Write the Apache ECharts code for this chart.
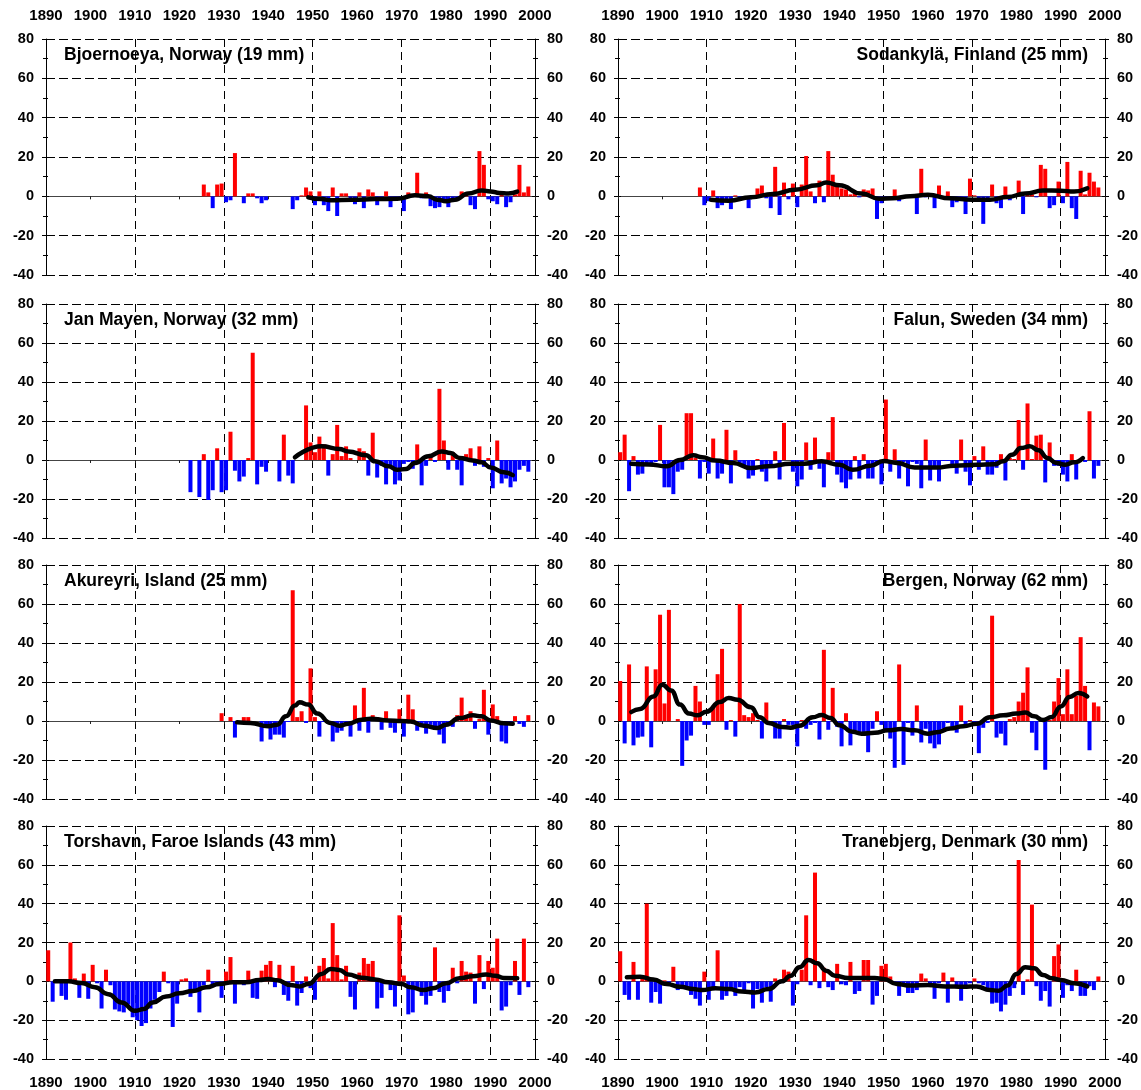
<!DOCTYPE html>
<html>
<head>
<meta charset="utf-8">
<script src="https://cdn.jsdelivr.net/npm/echarts@6/dist/echarts.min.js"></script>
<style>
html, body { margin: 0; padding: 0; background: #fff; }
#chart { width: 1141px; height: 1090px; }
</style>
</head>
<body>
<div id="chart"></div>
<script>
//数据: yearly deviation (%) per station, bars start at *Start year
let bjoernoeyaStart = 1925;
let bjoernoeyaBars = [6, 2, -6, 6, 6.5, -3, -2, 22, 0, -3.5, 1.5, 1.5, -1, -3.5, -2,
    null, null, null, null, null,
    -6.5, -2, 0.5, 4.5, 2.5, -4.5, 2.5, -4.5, -7.5, 4.5,
    -10, 1.5, 1.5, -1, -4, 2, -6, 3.5, 2, -4.5,
    -1, 2.5, -5.5, -1, -1, -7.5, 2, 1, 12, -1,
    2, -5, -6, -5.5, -3, -5.5, -2, -1, 2.5, 1,
    -4.5, -6.5, 23, 16, -1.5, -2.5, -4, 2.5, -5.5, -3,
    1, 16, 2, 5];
let bjoernoeyaTrendYears = [1949, 1952, 1954, 1959, 1964, 1969, 1973, 1976, 1978, 1980, 1982, 1985, 1988, 1990, 1992, 1994, 1996];
let bjoernoeyaTrend = [-0.5, -1.4, -2, -1.7, -1.4, -1.2, 0.5, 0, -1.7, -2.5, -1.7, 1.4, 3, 2.5, 1.7, 1.5, 2.4];

let sodankylaStart = 1908;
let sodankylaBars = [4.5, -4.5, -2.5, 3, -6, -4.5, -2, -6.5, 0.5, -1,
    -1.5, -6, -1, 4, 5.5, -1, -6, 15, -9.5, 7,
    -1.5, 6.5, -5.5, 6, 20.5, 2.5, -3.5, 8, -3, 23,
    11, 5, 4, 3.5, 1, 2, -0.5, 3.5, 3, 4,
    -11.5, -3.5, -1, -0.5, 3.5, -2.5, -1, 0.5, -0.5, -9,
    14, -0.5, 0.5, -6, 5.5, -1, 2.5, -5.5, -3, -1.5,
    -9, 9, 0.5, -2, -14, -2, 6, -3.5, -6, 5,
    -2, 0.5, 8, -9, 1, 1, -0.5, 16, 14, -6,
    -4.5, 7.5, -3.5, 17.5, -6, -11.5, 13, 1, 12, 7.5,
    4.5];
let sodankylaTrendYears = [1911, 1915, 1920, 1925, 1930, 1935, 1937, 1940, 1945, 1949, 1952, 1956, 1960, 1965, 1970, 1974, 1978, 1982, 1986, 1990, 1993, 1996];
let sodankylaTrend = [-1.7, -2.2, -0.5, 1.2, 3.4, 5.6, 7, 5.6, 1.4, -1.2, -1, 0, 0.8, -1, -1.7, -1.7, -0.3, 1.4, 3, 2.9, 2.4, 4.1];

let janMayenStart = 1922;
let janMayenBars = [-16.5, null, -19, 3, -20.5, -15.5, 6, -16.5,
    -15.5, 14.5, -5.5, -11, -8.5, 1, 55, -12.5, -3.5, -6,
    null, null, -11, 13, -8, -12, null, null, 28, 9,
    4, 12, 8, -8, 3, 18, 2, 7, 1, 0,
    6, 4.5, -8, 14, -9, -3, -12.5, -3, -12.5, -10.5,
    -2, -1, -4.5, 8, -13, -3, 1.5, -1, 36.5, 10,
    -5, 4, -5, -13, 3, 6, -3, 7, -3.5, 1,
    -14.5, 10, -12, -9.5, -14, -11, -5, -3, -6];
let janMayenTrendYears = [1946, 1952, 1956, 1958, 1962, 1964, 1967, 1969, 1971, 1973, 1976, 1979, 1981, 1983, 1986, 1988, 1990, 1993, 1995];
let janMayenTrend = [1.4, 7, 5.6, 4.4, 2.4, -0.7, -3.2, -5, -4.6, -1.5, 1.9, 4.4, 3.6, 1, -0.2, -1.2, -3.8, -6.3, -7.8];

let falunStart = 1890;
let falunBars = [4, 13, -16, 2, -7.5, -7, -2, -2, -1, 18,
    -14, -14, -17.5, -6, -5, 24, 24, 1, -9.5, -1,
    -7, 11, -9.5, -7, 15.5, -12, 5, -1.5, -4, -9.5,
    -8, 0.5, -6, -11, -4, 4.5, -10, 19, 0, -6,
    -13.5, -10, 9, -5, 11.5, -4.5, -14, 4, 22, -7.5,
    -11.5, -14.5, -10, 2, -9.5, 3, -9.5, -9.5, -1, -12.5,
    31, -6, 5.5, -9.5, -1, -13.5, -1, -2, -14.5, 10.5,
    -10.5, -4, -11, -0.5, -0.5, -3, -7, 10.5, -6, -13,
    2, -5, 7, -7.5, -7.5, -4, 3, -10.5, 1, 0.5,
    20.5, -5, 29, 0.5, 12.5, 13, -11.5, 9, -3, -3,
    -7.5, -11, 3, -10, 0, -1, 25, -9.5, -3];
let falunTrendYears = [1893, 1897, 1901, 1904, 1907, 1909, 1912, 1916, 1920, 1924, 1929, 1932, 1936, 1940, 1943, 1947, 1950, 1953, 1957, 1962, 1966, 1971, 1975, 1977, 1979, 1981, 1983, 1985, 1987, 1989, 1991, 1993, 1995];
let falunTrend = [-1.9, -2.3, -3.2, 0, 2.4, 1.4, -0.3, -1.5, -4.1, -3.2, -1.9, -1.9, -0.7, -2.4, -5, -2.9, -0.5, -1.5, -3.8, -3.9, -2.9, -2.4, -2.2, -0.7, 2.7, 6.1, 7, 5, 1, -1.5, -2.4, -1.2, 1];

let akureyriStart = 1929;
let akureyriBars = [4, null, 2, -8.5, null, 2, 2, null, null, -10.5,
    -2, -9.5, -7, -7, -8.5, -0.5, 67, 2, 5, -1,
    27, 2, -8, -0.5, -1, -10.5, -6, -5, -2, -8,
    8, -5, 17, -6, 3, 2, -4.5, 5, -3.5, -6,
    6, -8, 13.5, 6, -5, -2.5, -6.5, -2, -4, -7,
    -11.5, -1, -3, 3, 12, 3, 5, -4, 1, 16,
    -7, 8.5, 2.5, -10.5, -11.5, -1, 2.5, -1.5, -3, 3];
let akureyriTrendYears = [1933, 1936, 1940, 1942, 1944, 1946, 1947, 1949, 1951, 1954, 1956, 1958, 1961, 1963, 1967, 1970, 1972, 1975, 1978, 1980, 1983, 1986, 1988, 1990, 1993, 1995];
let akureyriTrend = [-0.7, -1, -2.7, -1.9, 2.4, 7.9, 9.6, 8.4, 3.8, -1, -2.4, -1.4, 0.7, 1.2, 0.3, 0, -0.3, -2.4, -3.6, -1.9, 1.5, 2.9, 2.4, 0.3, -1.2, -1.4];

let bergenStart = 1890;
let bergenBars = [20.5, -11.5, 29, -12.5, -8.5, -8, 28, -13.5, 26.5, 54.5,
    9, 57, 0, 1, -23, -10, -7.5, 18, 10, -2,
    -2, 7.5, 24, 37, -4.5, 0.5, -8, 60, 3, 2,
    4, 0.5, -9, 9.5, -1, -9, -9, 1, -2, -2,
    -13, 0.5, -4, -2, -1, -9.5, 36.5, -4.5, 17, -3,
    -13, 4, -12.5, -5, -6, -7.5, -16, -4, 5, -2,
    -5, -9, -24, 29, -22.5, -1, -7.5, 8, -11, -4,
    -11.5, -14, -12, -4, -1, -3, -6, 8, -2, 0.5,
    -2, -16.5, -3.5, -1, 54, -8.5, -6.5, -12.5, 1, 2,
    10, 14.5, 27.5, -6, -15, 0.5, -25, 0.5, 10, 22,
    3.5, 26.5, 3.5, 13, 43, 18, -15, 9.5, 7.5];
let bergenTrendYears = [1893, 1895, 1898, 1900, 1902, 1904, 1906, 1908, 1910, 1913, 1915, 1917, 1920, 1922, 1924, 1927, 1929, 1931, 1934, 1936, 1938, 1940, 1943, 1945, 1948, 1951, 1954, 1957, 1960, 1962, 1965, 1968, 1971, 1974, 1977, 1980, 1982, 1984, 1986, 1988, 1990, 1992, 1994, 1996];
let bergenTrend = [4.6, 6.2, 12.6, 18.6, 15.7, 8.4, 3.8, 2.9, 4.8, 9.7, 11.8, 10.9, 7, 1.9, -1, -3.1, -3.4, -2.4, 1.9, 3.1, 1.5, -2.2, -5.5, -6.5, -6, -4.8, -4.1, -4.8, -6.5, -5.8, -3.9, -2.7, -1.4, 1.9, 2.9, 3.8, 4.3, 2.4, 0.5, 2.1, 7.5, 12.3, 14.4, 12.6];

let torshavnStart = 1890;
let torshavnBars = [16, -10.5, 0.5, -7.5, -9.5, 20, 1.5, -8.5, 4, -9,
    8.5, -1, -14, 6, -2, -14.5, -15.5, -16, -12, -18.5,
    -20, -23, -21.5, -14, -9.5, -5.5, 5, -1, -23.5, -11.5,
    1, 1.5, -8, -4.5, -16, -2, 6, -2, -1, -8.5,
    5, 12.5, -11.5, 0.5, -2, 5.5, -8.5, -9, 5.5, 8.5,
    10.5, -3, 8.5, -7, -10, 8, -12.5, -6, 2.5, -3.5,
    -9.5, 8, 12, 1.5, 30, 13.5, 1, 8, -8, -14.5,
    4.5, 12, 9, 10.5, -14, -8.5, -1, -4.5, -13, 34,
    3, -17, -16, -3, -7.5, -12, -7.5, 17.5, -5.5, -11,
    -5, 7, -1, 10.5, 5, 4.5, -11.5, 13.5, -4, 10.5,
    7, 22, -15, -13, -2, 10.5, -7, 22, -3];
let torshavnTrendYears = [1892, 1895, 1898, 1901, 1904, 1907, 1910, 1912, 1914, 1917, 1920, 1923, 1926, 1929, 1932, 1935, 1938, 1940, 1942, 1945, 1947, 1949, 1952, 1954, 1956, 1958, 1961, 1964, 1967, 1970, 1972, 1975, 1977, 1980, 1983, 1986, 1989, 1991, 1993, 1996];
let torshavnTrend = [0, 0, -0.9, -3.1, -6.6, -10.9, -15.2, -14.3, -10.9, -7.8, -6.2, -5, -3.1, -1.4, -0.5, -0.5, 0.7, 1.2, 0.5, -1.9, -2.6, -1.4, 3.8, 6.4, 5.9, 3.5, 1.9, 1, -0.5, -1.4, -3.1, -4.5, -3.6, -1, 1.6, 2.6, 3.5, 2.9, 1.7, 1.6];

let tranebjergStart = 1890;
let tranebjergBars = [15.5, -7, -9.5, 10, -9.5, 3, 40, -11, -5.5, -11.5,
    0.5, -1, 7.5, -4.5, -3, -4, -7, -9, -12.5, 5,
    -9.5, -3, 16, -9.5, -7.5, -4, -7.5, -3, -5.5, -1,
    -14, -4, -11, -3, -10.5, 1.5, -1, 6, 5, -12.5,
    -1.5, 6, 34, -2, 56, -3.5, 7, -3, -4.5, 9,
    -1.5, -2, 10, -6.5, -5, 11, 11, -12, -7.5, 8,
    9, 2.5, -1, -7.5, -2, -6, -6, -4.5, 4, 1.5,
    -1, -9, -1, 4.5, -11, 2, -2, -10, -2, -1,
    1.5, -1, -2, -4, -11.5, -11, -15.5, -12, -7.5, -3.5,
    62.5, -7, 1, 39.5, -2.5, -10, -5, -13, 13, 19,
    -8.5, -2, -5, 6, -7.5, -7.5, -2.5, -4.5, 2.5];
let tranebjergTrendYears = [1892, 1895, 1898, 1901, 1904, 1907, 1909, 1912, 1915, 1918, 1921, 1924, 1927, 1929, 1931, 1933, 1935, 1937, 1939, 1942, 1945, 1948, 1950, 1953, 1956, 1960, 1964, 1968, 1971, 1974, 1976, 1978, 1980, 1982, 1984, 1986, 1988, 1990, 1993, 1996];
let tranebjergTrend = [2.1, 2.4, 0.9, -1.4, -2.8, -4, -4.5, -3.5, -4, -5.2, -5.7, -4, 0, 2.9, 7.3, 11, 9.3, 5.5, 2.9, 1.7, 1.7, 1.7, 1.2, -1.4, -2.2, -1.9, -2.6, -2.8, -2.6, -4.5, -4.8, -2.2, 3.8, 7.3, 6.7, 3.3, 1.6, 0.7, -1, -2.6];

let stations = [
    {name: 'Bjoernoeya, Norway (19 mm)', start: bjoernoeyaStart, bars: bjoernoeyaBars, tYears: bjoernoeyaTrendYears, tVals: bjoernoeyaTrend, col: 0, row: 0},
    {name: 'Sodankylä, Finland (25 mm)', start: sodankylaStart, bars: sodankylaBars, tYears: sodankylaTrendYears, tVals: sodankylaTrend, col: 1, row: 0},
    {name: 'Jan Mayen, Norway (32 mm)', start: janMayenStart, bars: janMayenBars, tYears: janMayenTrendYears, tVals: janMayenTrend, col: 0, row: 1},
    {name: 'Falun, Sweden (34 mm)', start: falunStart, bars: falunBars, tYears: falunTrendYears, tVals: falunTrend, col: 1, row: 1},
    {name: 'Akureyri, Island (25 mm)', start: akureyriStart, bars: akureyriBars, tYears: akureyriTrendYears, tVals: akureyriTrend, col: 0, row: 2},
    {name: 'Bergen, Norway (62 mm)', start: bergenStart, bars: bergenBars, tYears: bergenTrendYears, tVals: bergenTrend, col: 1, row: 2},
    {name: 'Torshavn, Faroe Islands (43 mm)', start: torshavnStart, bars: torshavnBars, tYears: torshavnTrendYears, tVals: torshavnTrend, col: 0, row: 3},
    {name: 'Tranebjerg, Denmark (30 mm)', start: tranebjergStart, bars: tranebjergBars, tYears: tranebjergTrendYears, tVals: tranebjergTrend, col: 1, row: 3}
];

//布局
let colLeft = [46, 618];
let colWidth = [489, 487];
let rowTop = [39, 304, 565, 826];
let rowHeight = [236, 234, 234, 233];
let fontFam = '"Liberation Sans", Arial, sans-serif';

let grids = [], xAxes = [], yAxes = [], series = [], titles = [];

function yAxisDef(k, side, main){
    return {
        gridIndex: k,
        type: 'value',
        min: -40,
        max: 80,
        interval: 20,
        position: side,
        axisLine: {show: main, onZero: false, lineStyle: {color: '#000', width: 1}},
        axisTick: {show: true, inside: !main, length: main ? 4 : 3, lineStyle: {color: '#000'}},
        minorTick: {show: true, splitNumber: 2, length: main ? 3 : 2, lineStyle: {color: '#000'}},
        axisLabel: {
            show: main, margin: 12, fontSize: 14.5, fontWeight: 'bold', color: '#000',
            fontFamily: fontFam, showMinLabel: true, showMaxLabel: true
        },
        splitLine: {show: main && side === 'left', lineStyle: {color: '#000', type: [9, 4], width: 1}}
    };
}

for(let k = 0; k < stations.length; k++){
    let st = stations[k];
    grids.push({left: colLeft[st.col], top: rowTop[st.row], width: colWidth[st.col], height: rowHeight[st.row]});
    // zero line with decade ticks
    xAxes.push({
        gridIndex: k, type: 'value', min: 1890, max: 2000, interval: 10, position: 'bottom',
        axisLine: {show: true, onZero: true, lineStyle: {color: '#444', width: 1}},
        axisTick: {show: true, length: 3, lineStyle: {color: '#222'}},
        axisLabel: {show: false},
        splitLine: {show: false}
    });
    // vertical dashed lines every 20 years
    xAxes.push({
        gridIndex: k, type: 'value', min: 1890, max: 2000, interval: 20, position: 'top',
        axisLine: {show: false, onZero: false},
        axisTick: {show: false},
        axisLabel: {show: false},
        splitLine: {show: true, lineStyle: {color: '#000', type: [8, 5], width: 1}}
    });
    yAxes.push(yAxisDef(k, 'left', true));
    yAxes.push(yAxisDef(k, 'left', false));
    yAxes.push(yAxisDef(k, 'right', true));
    yAxes.push(yAxisDef(k, 'right', false));

    let barData = [];
    for(let i = 0; i < st.bars.length; i++){
        if(st.bars[i] === null){
            continue;
        }
        barData.push([st.start + i + 0.5, st.bars[i]]);
    }
    let trendData = [];
    for(let i = 0; i < st.tYears.length; i++){
        trendData.push([st.tYears[i], st.tVals[i]]);
    }
    series.push({
        type: 'bar',
        xAxisIndex: 2 * k,
        yAxisIndex: 4 * k,
        barWidth: 4,
        data: barData,
        itemStyle: {
            color: function(p){ return p.value[1] >= 0 ? '#ff0000' : '#0000ff'; }
        },
        silent: true
    });
    series.push({
        type: 'line',
        xAxisIndex: 2 * k,
        yAxisIndex: 4 * k,
        data: trendData,
        smooth: 0.5,
        smoothMonotone: 'x',
        symbol: 'none',
        lineStyle: {color: '#000', width: 4.5, cap: 'round', join: 'round'},
        z: 5,
        silent: true
    });

    let t = {
        text: st.name,
        top: rowTop[st.row] + 7,
        padding: 0,
        textStyle: {fontSize: 17.5, fontWeight: 'bold', color: '#000', fontFamily: fontFam}
    };
    if(st.col === 0){
        t.left = 64;
    }else{
        t.right = 53;
    }
    titles.push(t);
}

// year labels on top and bottom of each column
for(let c = 0; c < 2; c++){
    let g = grids.length;
    grids.push({left: colLeft[c], top: rowTop[0], width: colWidth[c], height: rowTop[3] + rowHeight[3] - rowTop[0]});
    ['top', 'bottom'].forEach(function(pos){
        xAxes.push({
            gridIndex: g, type: 'value', min: 1890, max: 2000, interval: 10, position: pos,
            axisLine: {show: false, onZero: false},
            axisTick: {show: false},
            splitLine: {show: false},
            axisLabel: {
                show: true, margin: 16, fontSize: 15, fontWeight: 'bold', color: '#000',
                fontFamily: fontFam, showMinLabel: true, showMaxLabel: true,
                formatter: function(v){ return String(v); }
            }
        });
    });
    yAxes.push({gridIndex: g, type: 'value', min: 0, max: 1, show: false});
}

let chart = echarts.init(document.getElementById('chart'));
chart.setOption({
    backgroundColor: '#fff',
    animation: false,
    title: titles,
    grid: grids,
    xAxis: xAxes,
    yAxis: yAxes,
    series: series
});
</script>
</body>
</html>
